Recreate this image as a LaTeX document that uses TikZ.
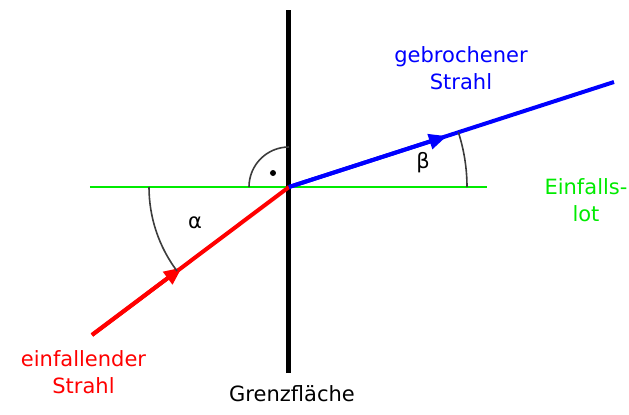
\documentclass[tikz,border=0pt]{standalone}
\usepackage{fontspec}
\setmainfont{DejaVu Sans}
\usetikzlibrary{arrows.meta}
\definecolor{lotgreen}{RGB}{0,235,0}
\definecolor{arcgray}{RGB}{60,60,60}
\tikzset{
  ray/.style={line width=2pt},
  raytip/.style={-{Triangle[length=9pt,width=7.5pt]}},
  anglearc/.style={arcgray,line width=0.8pt},
  lbl/.style={font=\fontsize{10.5}{13.5}\selectfont,inner sep=0pt,align=center}
}

\begin{document}
\begin{tikzpicture}[x=0.5pt,y=0.5pt]
    \useasboundingbox (0,0) rectangle (629,414);

    % Points
    \coordinate (O) at (289,227);
    \coordinate (wallT) at (289,404);
    \coordinate (wallB) at (289,41);
    \coordinate (lotL) at (90,227);
    \coordinate (lotR) at (487,227);
    \coordinate (inS) at (92,79);
    \coordinate (inA) at (182,146.6);
    \coordinate (outA) at (447,277.9);
    \coordinate (outE) at (614,332);

    % Normal (Einfallslot)
    \draw[lotgreen,line width=0.8pt] (lotL) -- (lotR);

    % Boundary
    \draw[line width=2.5pt] (wallB) -- (wallT);

    % Right angle
    \draw[anglearc] (O) ++(90:40) arc[start angle=90,end angle=180,radius=40];
    \fill (273,241) circle (3);

    % Incident ray
    \draw[ray,red] (inS) -- (O);
    \draw[ray,raytip,red] (inS) -- (inA);

    % Refracted ray
    \draw[ray,blue] (O) -- (outE);
    \draw[ray,raytip,blue] (O) -- (outA);

    % Angles
    \draw[anglearc] (O) ++(180:140) arc[start angle=180,end angle=216.9,radius=140];
    \draw[anglearc] (O) ++(0:178) arc[start angle=0,end angle=17.9,radius=178];
    \node[lbl] (alpha) at (195,191) {α};
    \node[lbl] (beta) at (423,251) {β};

    % Labels
    \node[lbl,blue] (refr) at (461,345.5) {gebrochener\\Strahl};
    \node[lbl,lotgreen] (lot) at (586,213.5) {Einfalls-\\lot};
    \node[lbl,red] (inc) at (83.5,41.5) {einfallender\\Strahl};
    \node[lbl,anchor=base] (wall) at (292,12) {Grenzfläche};
\end{tikzpicture}
\end{document}
